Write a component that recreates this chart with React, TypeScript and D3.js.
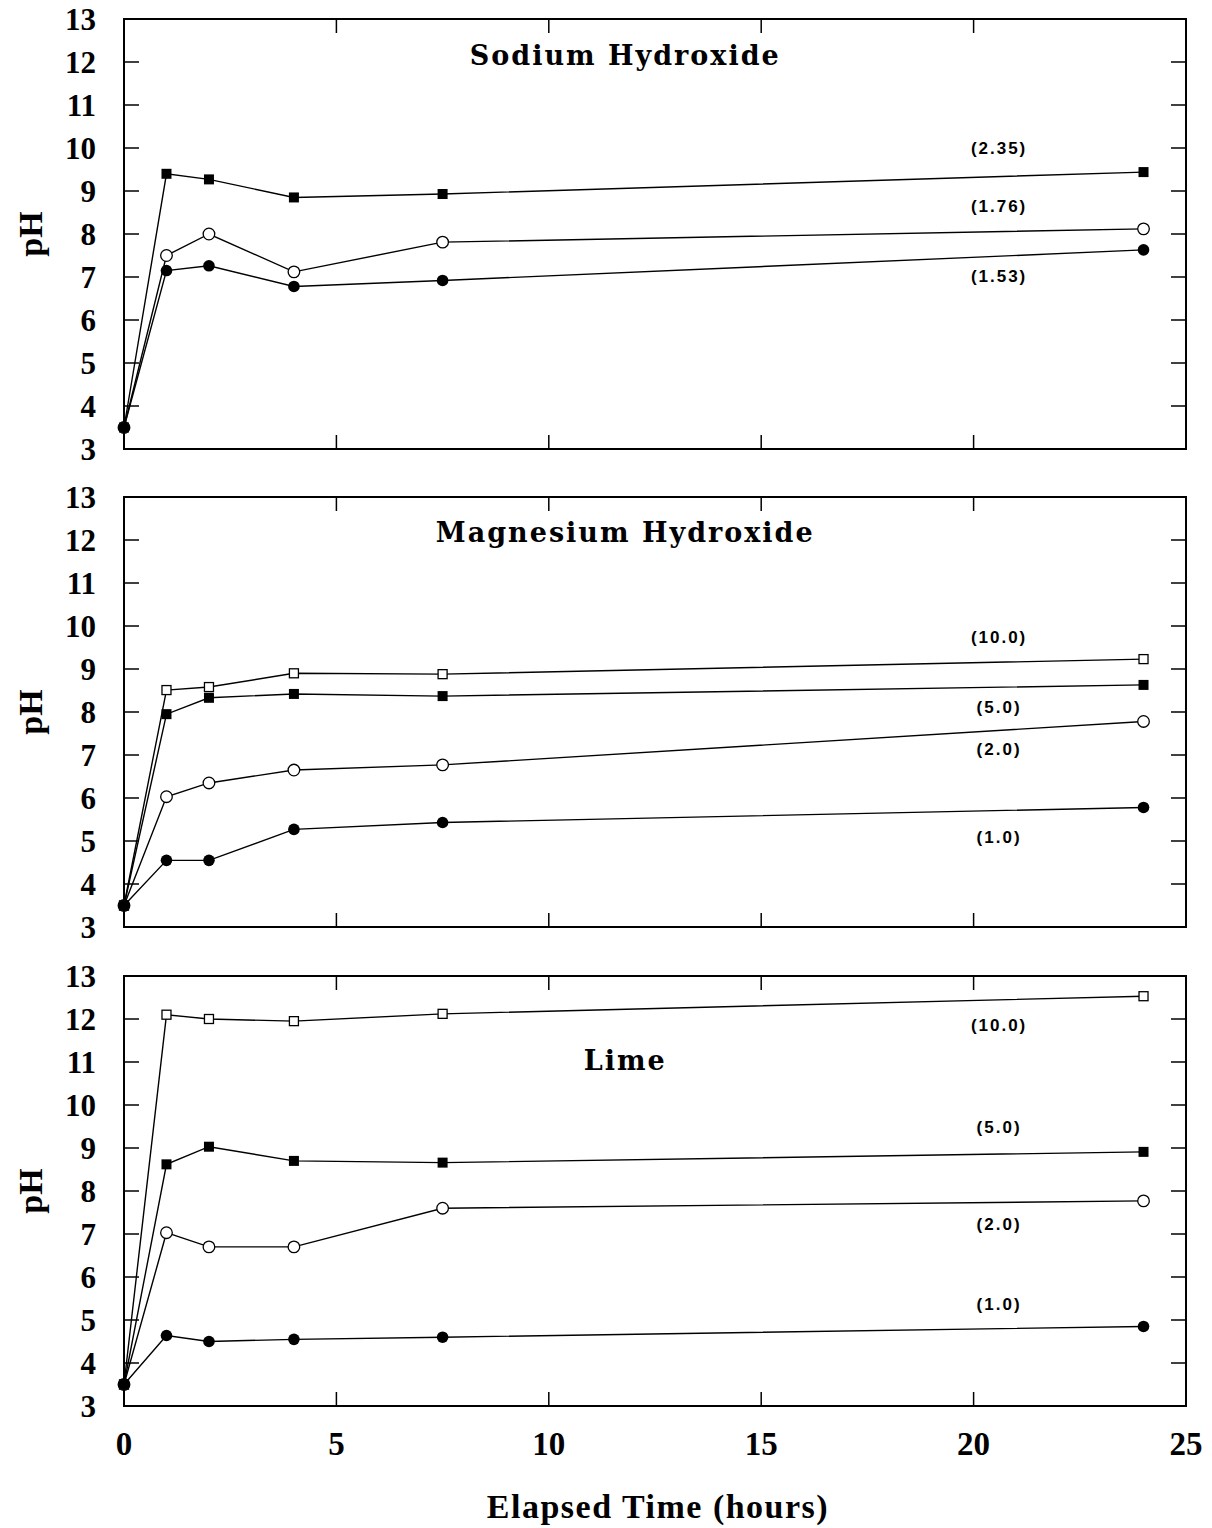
import React from "react";
import * as d3 from "d3";

const times = [0, 1, 2, 4, 7.5, 24];
const xTicks = [0, 5, 10, 15, 20, 25];
const yTicks = [3, 4, 5, 6, 7, 8, 9, 10, 11, 12, 13];

const panelTitles = ["Sodium Hydroxide", "Magnesium Hydroxide", "Lime"];

// Sodium Hydroxide
const naoh235 = [3.5, 9.4, 9.27, 8.85, 8.93, 9.44];
const naoh176 = [3.5, 7.5, 8.0, 7.12, 7.81, 8.12];
const naoh153 = [3.5, 7.15, 7.26, 6.78, 6.92, 7.63];
// Magnesium Hydroxide
const mg100 = [3.5, 8.51, 8.58, 8.9, 8.88, 9.23];
const mg50 = [3.5, 7.95, 8.33, 8.42, 8.37, 8.63];
const mg20 = [3.5, 6.03, 6.35, 6.65, 6.77, 7.78];
const mg10 = [3.5, 4.55, 4.55, 5.27, 5.43, 5.78];
// Lime
const lime100 = [3.5, 12.1, 12.0, 11.95, 12.12, 12.53];
const lime50 = [3.5, 8.62, 9.03, 8.7, 8.66, 8.91];
const lime20 = [3.5, 7.03, 6.7, 6.7, 7.6, 7.77];
const lime10 = [3.5, 4.64, 4.5, 4.55, 4.6, 4.85];

type Marker = "fsq" | "osq" | "fci" | "oci";
interface Series { values: number[]; marker: Marker; label: string; labelY: number; }

const panels: Series[][] = [
  [
    { values: naoh235, marker: "fsq", label: "(2.35)", labelY: 10.0 },
    { values: naoh176, marker: "oci", label: "(1.76)", labelY: 8.66 },
    { values: naoh153, marker: "fci", label: "(1.53)", labelY: 7.02 },
  ],
  [
    { values: mg100, marker: "osq", label: "(10.0)", labelY: 9.75 },
    { values: mg50, marker: "fsq", label: "(5.0)", labelY: 8.12 },
    { values: mg20, marker: "oci", label: "(2.0)", labelY: 7.15 },
    { values: mg10, marker: "fci", label: "(1.0)", labelY: 5.1 },
  ],
  [
    { values: lime100, marker: "osq", label: "(10.0)", labelY: 11.86 },
    { values: lime50, marker: "fsq", label: "(5.0)", labelY: 9.49 },
    { values: lime20, marker: "oci", label: "(2.0)", labelY: 7.23 },
    { values: lime10, marker: "fci", label: "(1.0)", labelY: 5.37 },
  ],
];

const titleY = [11.93, 11.95, 10.81];

const W = 1212, H = 1528;
const left = 124, right = 1186;
const tops = [19, 497, 976];
const ph = 430;
const serif = "'Liberation Serif', 'Times New Roman', serif";
const titleFont = "'DejaVu Serif', serif";
const sans = "'Liberation Sans', Arial, sans-serif";

function MarkerShape({ m, x, y }: { m: Marker; x: number; y: number }) {
  if (m === "fsq") return <rect x={x - 5} y={y - 5} width={10} height={10} fill="#000" />;
  if (m === "osq") return <rect x={x - 4.5} y={y - 4.5} width={9} height={9} fill="#fff" stroke="#000" strokeWidth={1.3} />;
  if (m === "fci") return <circle cx={x} cy={y} r={5.8} fill="#000" />;
  return <circle cx={x} cy={y} r={5.8} fill="#fff" stroke="#000" strokeWidth={1.3} />;
}

export default function App() {
  const x = d3.scaleLinear().domain([0, 25]).range([left, right]);
  return (
    <svg width={W} height={H} style={{ position: "absolute", left: 0, top: 0, background: "#fff" }}>
      <rect width={W} height={H} fill="#fff" />
      {panels.map((series, pi) => {
        const top = tops[pi];
        const y = d3.scaleLinear().domain([3, 13]).range([top + ph, top]);
        const line = d3.line<number>().x((_, i) => x(times[i])).y((v) => y(v));
        return (
          <g key={pi}>
            <rect x={left} y={top} width={right - left} height={ph} fill="none" stroke="#000" strokeWidth={2} />
            {yTicks.slice(1, -1).map((t) => (
              <g key={t}>
                <line x1={left} x2={left + 15} y1={y(t)} y2={y(t)} stroke="#000" strokeWidth={1.5} />
                <line x1={right} x2={right - 15} y1={y(t)} y2={y(t)} stroke="#000" strokeWidth={1.5} />
              </g>
            ))}
            {xTicks.slice(1, -1).map((t) => (
              <g key={t}>
                <line x1={x(t)} x2={x(t)} y1={top} y2={top + 14} stroke="#000" strokeWidth={1.5} />
                <line x1={x(t)} x2={x(t)} y1={top + ph} y2={top + ph - 14} stroke="#000" strokeWidth={1.5} />
              </g>
            ))}
            {yTicks.map((t) => (
              <text key={t} x={96} y={y(t)} dy="0.36em" textAnchor="end" fontFamily={serif} fontWeight="bold" fontSize={31}>
                {t}
              </text>
            ))}
            <text
              transform={`translate(42,${top + ph / 2}) rotate(-90)`}
              textAnchor="middle"
              fontFamily={serif}
              fontWeight="bold"
              fontSize={34}
            >
              pH
            </text>
            <text x={x(11.8)} y={y(titleY[pi])} textAnchor="middle" fontFamily={titleFont} fontWeight="bold" fontSize={27} letterSpacing={2}>
              {panelTitles[pi]}
            </text>
            {series.map((s, si) => (
              <g key={si}>
                <path d={line(s.values) || ""} fill="none" stroke="#000" strokeWidth={1.4} />
                {s.values.map((v, i) => (
                  <MarkerShape key={i} m={s.marker} x={x(times[i])} y={y(v)} />
                ))}
                <text x={x(20.6)} y={y(s.labelY)} dy="0.35em" textAnchor="middle" fontFamily={sans} fontWeight="bold" fontSize={17} letterSpacing={2}>
                  {s.label}
                </text>
              </g>
            ))}
          </g>
        );
      })}
      {xTicks.map((t) => (
        <text key={t} x={x(t)} y={1455} textAnchor="middle" fontFamily={serif} fontWeight="bold" fontSize={33}>
          {t}
        </text>
      ))}
      <text x={658} y={1518} textAnchor="middle" fontFamily={serif} fontWeight="bold" fontSize={34} letterSpacing={1.5}>
        Elapsed Time (hours)
      </text>
    </svg>
  );
}
